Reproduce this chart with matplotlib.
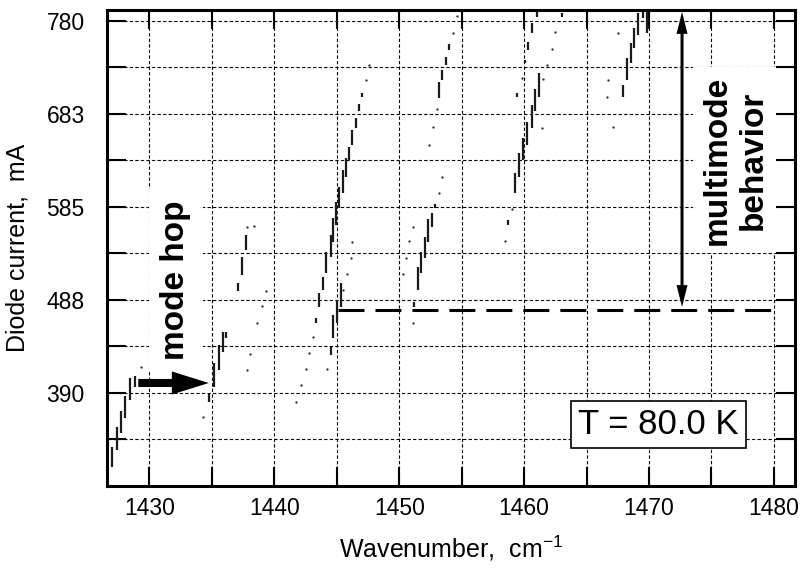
import numpy as np
import matplotlib
matplotlib.use('Agg')
import matplotlib.pyplot as plt
from matplotlib.patches import FancyArrowPatch

plt.rcParams['font.family'] = ['Liberation Sans', 'DejaVu Sans']
plt.rcParams['mathtext.fontset'] = 'custom'
plt.rcParams['mathtext.rm'] = 'Liberation Sans'
plt.rcParams['mathtext.it'] = 'Liberation Sans:italic'
plt.rcParams['mathtext.bf'] = 'Liberation Sans:bold'

# lasing lines: (wavenumber, current from, current to)
mode_a = [(1427.0, 312, 333), (1427.4, 330, 354), (1427.7, 347, 371),
          (1428.0, 363, 386), (1428.4, 382, 405), (1428.8, 396, 407)]
mode_b = [(1434.8, 380, 389), (1435.2, 396, 421), (1435.6, 414, 440),
          (1435.9, 433, 454), (1436.1, 447, 454), (1437.1, 497, 505),
          (1437.4, 513, 532), (1437.7, 540, 555)]
mode_c = [(1443.3, 463, 468), (1443.6, 480, 494), (1443.9, 498, 511),
          (1444.1, 515, 538), (1444.5, 532, 555), (1444.7, 548, 573),
          (1444.9, 566, 590), (1445.2, 584, 606), (1445.5, 599, 624),
          (1445.7, 616, 636), (1446.0, 634, 648), (1446.2, 650, 666),
          (1446.5, 668, 678), (1446.8, 685, 693), (1447.0, 700, 704),
          (1444.5, 429, 438), (1444.7, 447, 471), (1445.0, 463, 487),
          (1445.35, 480, 505)]
mode_d = [(1451.2, 480, 485), (1451.5, 498, 522), (1451.75, 515, 538),
          (1452.1, 531, 553), (1452.3, 548, 572), (1452.6, 564, 578),
          (1452.9, 584, 588), (1453.2, 699, 716), (1453.4, 718, 729),
          (1453.75, 734, 742), (1454.0, 750, 756)]
mode_e = [(1458.7, 566, 571), (1459.3, 599, 620), (1459.6, 616, 641),
          (1459.9, 634, 657), (1460.25, 650, 674), (1460.6, 668, 692),
          (1460.9, 685, 709), (1461.2, 700, 725), (1459.45, 700, 704),
          (1460.1, 736, 739), (1460.3, 750, 758), (1460.65, 767, 778),
          (1461.05, 784, 789), (1463.05, 784, 788)]
mode_f = [(1467.95, 700, 713), (1468.25, 718, 741), (1468.6, 736, 757),
          (1468.8, 752, 773), (1469.1, 765, 788), (1469.55, 783, 789),
          (1469.85, 767, 789)]

# weak single points
dot_x = [1429.3, 1434.3, 1437.8, 1438.4, 1437.8, 1438.05, 1438.6, 1439.0, 1439.3,
         1441.7, 1442.1, 1442.5, 1442.8, 1443.1, 1444.2, 1445.5, 1445.8, 1446.1,
         1446.2, 1447.3, 1447.6, 1450.3, 1450.55, 1450.8, 1451.1, 1451.1, 1453.2,
         1453.4, 1452.4, 1452.7, 1453.0, 1454.3, 1454.6, 1458.5, 1459.05, 1459.85,
         1461.45, 1461.5, 1461.85, 1462.2, 1462.5, 1466.65, 1466.7, 1467.1, 1467.5]
dot_y = [417, 364, 564, 565, 414, 430, 463, 481, 497,
         380, 398, 415, 431, 448, 415, 498, 514, 531,
         548, 718, 734, 514, 531, 549, 564, 463, 599,
         616, 650, 669, 688, 767, 785, 549, 583, 720,
         668, 719, 734, 751, 768, 700, 718, 669, 767]

x_major = [1430, 1440, 1450, 1460, 1470, 1480]
x_minor = [1435, 1445, 1455, 1465, 1475]
y_major = [390, 487.5, 585, 682.5, 780]
y_labels = ['390', '488', '585', '683', '780']
y_minor = [341.25, 438.75, 536.25, 633.75, 731.25]

multimode_onset = 477
temperature = 'T = 80.0 K'

fig = plt.figure(figsize=(8.06, 5.68), dpi=100)
ax = fig.add_axes([0.1328, 0.1444, 0.8536, 0.838])
ax.set_axisbelow(False)

for xv in x_major + x_minor:
    ax.axvline(xv, color='k', lw=0.8, ls=(0, (3, 2)), zorder=1)
for yv in y_major + y_minor:
    ax.axhline(yv, color='k', lw=0.8, ls=(0, (3, 2)), zorder=1)

for mode in [mode_a, mode_b, mode_c, mode_d, mode_e, mode_f]:
    xs, lo, hi = zip(*mode)
    ax.vlines(xs, lo, hi, colors='#1a1a1a', lw=1.6, zorder=3)
ax.plot(dot_x, dot_y, 'o', ms=1.7, color='#333333', mec='none', zorder=3)

ax.set_xlim(1426.6, 1481.7)
ax.set_ylim(291.9, 791.5)
ax.set_xticks(x_major)
ax.set_xticks(x_minor, minor=True)
ax.set_yticks(y_major, y_labels)
ax.set_yticks(y_minor, minor=True)
ax.tick_params(which='both', direction='in', length=14, width=1.5,
               top=True, right=True, labelsize=16.5)
ax.tick_params(axis='x', pad=8)
ax.tick_params(axis='y', pad=16)
for s in ax.spines.values():
    s.set_linewidth(2.2)

ax.set_xlabel('Wavenumber,  cm$^{-1}$', fontsize=18, labelpad=10)
ax.set_ylabel('Diode current,  mA', fontsize=18, labelpad=12)

# threshold of multimode operation
ax.plot([1445.1, 1479.8], [multimode_onset, multimode_onset], color='k',
        lw=2.2, dashes=(8.5, 3.6), zorder=4)

# mode hop arrow
ax.add_patch(FancyArrowPatch((1429.1, 400), (1434.75, 400),
             arrowstyle='simple,head_length=2.66,head_width=1.66,tail_width=0.58',
             mutation_scale=10, color='k', lw=0, shrinkA=0, shrinkB=0, zorder=4))
ax.text(1432.1, 508, 'mode hop', rotation=90, ha='center', va='center',
        fontsize=24, fontweight='bold', zorder=2,
        bbox=dict(boxstyle='square,pad=0.35', fc='white', ec='none'))

# double arrow marking multimode range
mid = (multimode_onset + 789.5) / 2
for end in [789.5, 479.7]:
    ax.add_patch(FancyArrowPatch((1472.65, mid), (1472.65, end),
                 arrowstyle='simple,head_length=1.58,head_width=0.79,tail_width=0.216',
                 mutation_scale=10, color='k', lw=0, shrinkA=0, shrinkB=0, zorder=4))
ax.text(1476.9, 634, 'multimode\nbehavior', rotation=90, ha='center', va='center',
        multialignment='center', fontsize=24, fontweight='bold', zorder=2,
        bbox=dict(boxstyle='square,pad=0.25', fc='white', ec='none'))

ax.text(1470.75, 356, temperature, ha='center', va='center', fontsize=25, zorder=5,
        bbox=dict(boxstyle='square,pad=0.2', fc='white', ec='k', lw=1.2))

fig.savefig('out.png', dpi=100)
